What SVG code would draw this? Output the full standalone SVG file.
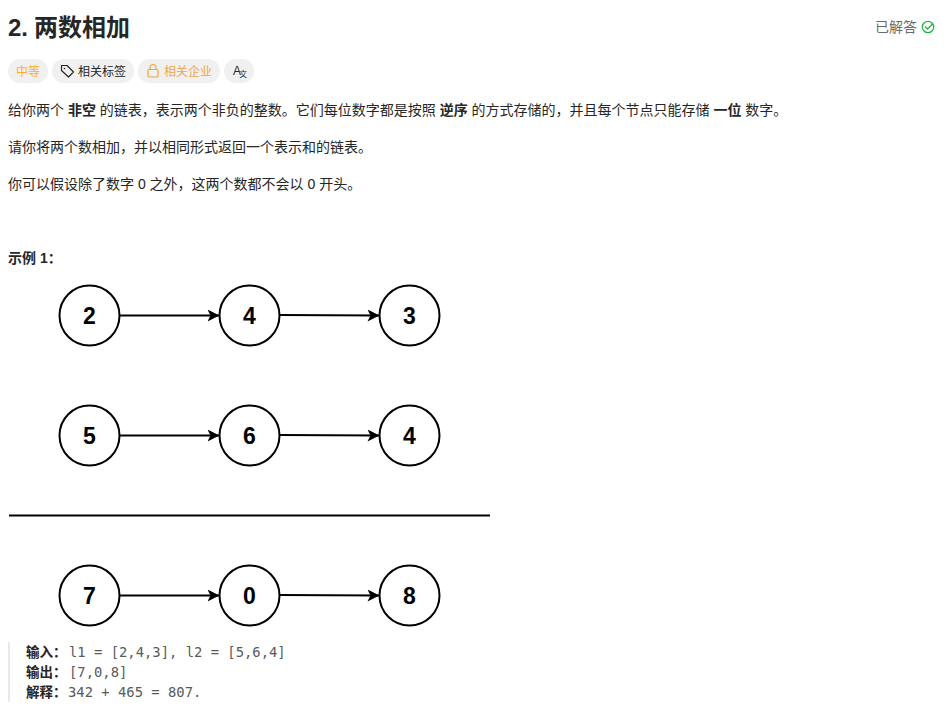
<svg xmlns="http://www.w3.org/2000/svg" width="947" height="713" viewBox="0 0 947 713">
<style>
text{font-family:"Liberation Sans","Noto Sans CJK SC",sans-serif;fill:#262626}
.strong{font-weight:700}
.t{font-size:14px}
.n circle{fill:#fff;stroke:#000;stroke-width:2}
.n text{font-size:23px;font-weight:700;text-anchor:middle;fill:#000;font-family:"Liberation Sans",sans-serif}
.c{stroke:#000;stroke-width:2;fill:none;marker-end:url(#a)}
.pill{fill:#f0f0f0}
.m{font-family:"DejaVu Sans Mono",monospace;font-size:13.850px;fill:#5a5a5a}
.k{font-size:13.500px;font-weight:700}
.icon{fill:none;stroke-width:1.200;stroke-linejoin:round;stroke-linecap:round}
</style>
<defs><marker id="a" markerUnits="userSpaceOnUse" markerWidth="14" markerHeight="13" refX="12" refY="6" orient="auto"><path d="M0 0L12 6L0 12L3 6Z" fill="#000"/></marker></defs>
<rect width="947" height="713" fill="#fff"/>
<g id="header">
<text x="8" y="36" font-size="24" font-weight="700">2.<tspan x="34">两数相加</tspan></text>
<text x="875" y="32" font-size="14" style="fill:#6b6b6b">已解答</text>
<circle cx="928" cy="27" r="5.700" fill="none" stroke="#1cb83f" stroke-width="1.300"/>
<path d="M925 26.500l2.500 2.500 5.500-5.500" fill="none" stroke="#1cb83f" stroke-width="1.300"/>
</g>
<g id="tags">
<rect class="pill" x="8" y="59" width="40" height="24" rx="12"/>
<text x="16" y="76" font-size="12" style="fill:#ffb020">中等</text>
<rect class="pill" x="52" y="59" width="82" height="24" rx="12"/>
<path class="icon" stroke="#262626" d="M61.500 65.500h5.500l6.500 6.500-5 5-7-6.500z"/>
<circle cx="64.500" cy="68.500" r=".8" fill="#262626"/>
<text x="78" y="76" font-size="12">相关标签</text>
<rect class="pill" x="138" y="59" width="82" height="24" rx="12"/>
<rect class="icon" stroke="#f0a63c" x="148" y="69.500" width="10" height="7.500" rx="1"/>
<path class="icon" stroke="#f0a63c" d="M150 69.500v-2a3 3 0 0 1 6 0v2"/>
<text x="164" y="76" font-size="12" style="fill:#eda84e">相关企业</text>
<rect class="pill" x="224" y="59" width="30" height="24" rx="12"/>
<text x="233" y="75" font-size="12">A</text><text x="239.500" y="76.500" font-size="7.500">文</text>
</g>
<g id="description">
<text class="t" x="8" y="115">给你两个 <tspan class="strong">非空</tspan> 的链表，表示两个非负的整数。它们每位数字都是按照 <tspan class="strong">逆序</tspan> 的方式存储的，并且每个节点只能存储 <tspan class="strong">一位</tspan> 数字。</text>
<text class="t" x="8" y="152">请你将两个数相加，并以相同形式返回一个表示和的链表。</text>
<text class="t" x="8" y="189">你可以假设除了数字 0 之外，这两个数都不会以 0 开头。</text>
<text x="8" y="263" font-size="14" font-weight="700">示例 1：</text>
</g>
<g id="connectors">
<path class="c" d="M120 315.500H219.500"/><path class="c" d="M280 315L379.500 315.500"/>
<path class="c" d="M120 435.500H219.500"/><path class="c" d="M280 435L379.500 435.500"/>
<path class="c" d="M120 595.500H219.500"/><path class="c" d="M280 595L379.500 595.500"/>
<path d="M9 515.500H490" stroke="#000" stroke-width="2" fill="none"/>
</g>
<g id="n2" class="n"><circle cx="89.500" cy="315.500" r="30"/><text x="89.500" y="324">2</text></g>
<g id="n4" class="n"><circle cx="249.500" cy="315.500" r="30"/><text x="249.500" y="324">4</text></g>
<g id="n3" class="n"><circle cx="409.500" cy="315.500" r="30"/><text x="409.500" y="324">3</text></g>
<g id="n5" class="n"><circle cx="89.500" cy="435.500" r="30"/><text x="89.500" y="444">5</text></g>
<g id="n6" class="n"><circle cx="249.500" cy="435.500" r="30"/><text x="249.500" y="444">6</text></g>
<g id="n4b" class="n"><circle cx="409.500" cy="435.500" r="30"/><text x="409.500" y="444">4</text></g>
<g id="n7" class="n"><circle cx="89.500" cy="595.500" r="30"/><text x="89.500" y="604">7</text></g>
<g id="n0" class="n"><circle cx="249.500" cy="595.500" r="30"/><text x="249.500" y="604">0</text></g>
<g id="n8" class="n"><circle cx="409.500" cy="595.500" r="30"/><text x="409.500" y="604">8</text></g>
<g id="example">
<rect x="8" y="642" width="2" height="60" fill="#e8e8e8"/>
<text class="k" x="26" y="657">输入：</text><text class="m" x="69" y="657">l1 = [2,4,3], l2 = [5,6,4]</text>
<text class="k" x="26" y="677">输出：</text><text class="m" x="69" y="677">[7,0,8]</text>
<text class="k" x="26" y="697">解释：</text><text class="m" x="68" y="697">342 + 465 = 807.</text>
</g>
</svg>
